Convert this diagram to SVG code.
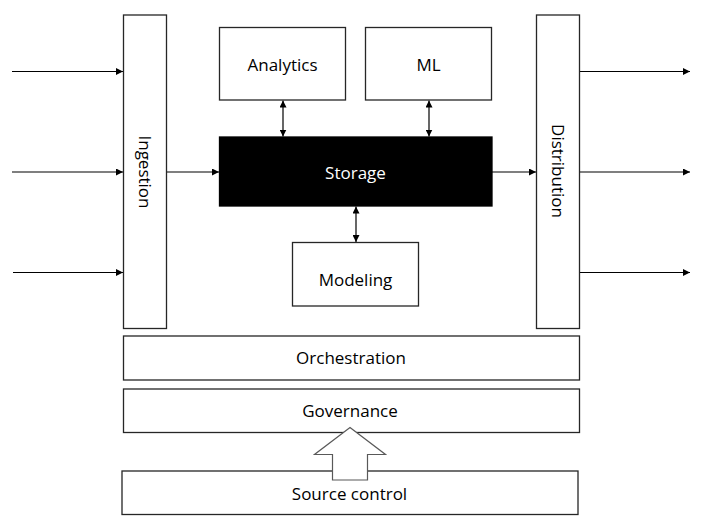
<svg xmlns="http://www.w3.org/2000/svg" width="702" height="524" viewBox="0 0 702 524">
<style>
.box{fill:#fff;stroke:#262626;stroke-width:1.3}
.dark{fill:#000;stroke:#000;stroke-width:1.3}
.lbl{font-family:"Open Sans","Noto Sans",sans-serif;font-size:17px;fill:#000;text-anchor:middle;dominant-baseline:central}
.wl{fill:#fff}
.ln{stroke:#000;stroke-width:1.2;fill:none}
</style>
<defs>
<marker id="ah" viewBox="0 0 10 10" refX="10" refY="5" markerWidth="7" markerHeight="7" markerUnits="userSpaceOnUse" orient="auto-start-reverse">
<path d="M0,0 L10,5 L0,10 z" fill="#000"/>
</marker>
</defs>
<rect width="702" height="524" fill="#fff"/>
<g id="connectors">
<line class="ln" x1="12" y1="71.5" x2="123" y2="71.5" marker-end="url(#ah)"/>
<line class="ln" x1="12" y1="172" x2="123" y2="172" marker-end="url(#ah)"/>
<line class="ln" x1="13" y1="272.5" x2="123" y2="272.5" marker-end="url(#ah)"/>
<line class="ln" x1="167" y1="172" x2="219" y2="172" marker-end="url(#ah)"/>
<line class="ln" x1="492" y1="172" x2="536" y2="172" marker-end="url(#ah)"/>
<line class="ln" x1="580" y1="71.5" x2="690" y2="71.5" marker-end="url(#ah)"/>
<line class="ln" x1="580" y1="172" x2="690" y2="172" marker-end="url(#ah)"/>
<line class="ln" x1="580" y1="272.5" x2="690" y2="272.5" marker-end="url(#ah)"/>
<line class="ln" x1="283" y1="100.5" x2="283" y2="136.5" marker-start="url(#ah)" marker-end="url(#ah)"/>
<line class="ln" x1="429" y1="100.5" x2="429" y2="136.5" marker-start="url(#ah)" marker-end="url(#ah)"/>
<line class="ln" x1="356" y1="206.5" x2="356" y2="242" marker-start="url(#ah)" marker-end="url(#ah)"/>
</g>
<g id="ingestion">
<rect class="box" x="123.5" y="15" width="43" height="313.5"/>
<text class="lbl" transform="translate(145,172) rotate(90)">Ingestion</text>
</g>
<g id="analytics">
<rect class="box" x="219.5" y="27.5" width="126" height="72.5"/>
<text class="lbl" x="282.5" y="64">Analytics</text>
</g>
<g id="ml">
<rect class="box" x="365.5" y="27.5" width="126" height="72.5"/>
<text class="lbl" x="428.5" y="64">ML</text>
</g>
<g id="storage">
<rect class="dark" x="219.5" y="137" width="272.5" height="69"/>
<text class="lbl wl" x="355.5" y="172">Storage</text>
</g>
<g id="modeling">
<rect class="box" x="292.5" y="242.5" width="126" height="63.5"/>
<text class="lbl" x="355.5" y="279">Modeling</text>
</g>
<g id="distribution">
<rect class="box" x="536.5" y="15" width="43" height="313.5"/>
<text class="lbl" transform="translate(558,171) rotate(90)">Distribution</text>
</g>
<g id="orchestration">
<rect class="box" x="123.5" y="336" width="456" height="44"/>
<text class="lbl" x="351" y="357">Orchestration</text>
</g>
<g id="governance">
<rect class="box" x="123.5" y="389" width="456" height="43.5"/>
<text class="lbl" x="350" y="410">Governance</text>
</g>
<g id="source-control">
<rect class="box" x="122" y="471" width="456" height="43.5"/>
<text class="lbl" x="349.5" y="493">Source control</text>
</g>
<g id="block-arrow">
<path d="M350,427.5 L385.5,454.5 L367.5,454.5 L367.5,480 L332.5,480 L332.5,454.5 L314.5,454.5 Z" fill="#fff" stroke="#595959" stroke-width="1.2"/>
</g>
</svg>
